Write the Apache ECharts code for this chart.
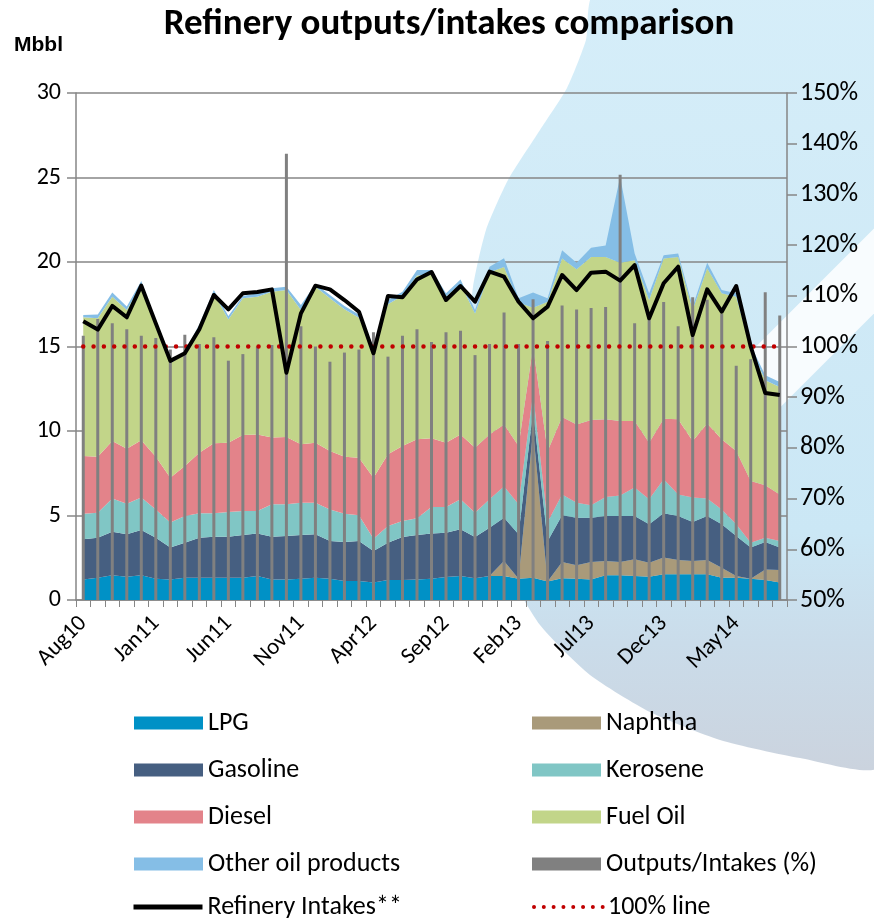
<!DOCTYPE html>
<html><head><meta charset="utf-8">
<script src="https://cdn.jsdelivr.net/npm/echarts/dist/echarts.min.js"></script>
<style>html,body{margin:0;padding:0;background:#fff}#c{width:874px;height:918px}</style>
</head><body><div id="c"></div>
<script>
const categories = ['Aug10','Sep10','Oct10','Nov10','Dec10','Jan11','Feb11','Mar11','Apr11','May11','Jun11','Jul11','Aug11','Sep11','Oct11','Nov11','Dec11','Jan12','Feb12','Mar12','Apr12','May12','Jun12','Jul12','Aug12','Sep12','Oct12','Nov12','Dec12','Jan13','Feb13','Mar13','Apr13','May13','Jun13','Jul13','Aug13','Sep13','Oct13','Nov13','Dec13','Jan14','Feb14','Mar14','Apr14','May14','Jun14','Jul14','Aug14'];
const lpg = [1.22,1.32,1.46,1.38,1.46,1.26,1.22,1.32,1.32,1.32,1.32,1.32,1.42,1.22,1.22,1.26,1.32,1.26,1.12,1.12,1.03,1.18,1.18,1.22,1.26,1.36,1.42,1.28,1.42,1.42,1.26,1.32,1.10,1.28,1.26,1.22,1.46,1.46,1.42,1.38,1.52,1.52,1.52,1.52,1.32,1.32,1.26,1.18,1.03];
const naphtha = [0,0,0,0,0,0,0,0,0,0,0,0,0,0,0,0,0,0,0,0,0,0,0,0,0,0,0,0,0,0.89,0,8.7,0,0.97,0.79,1.03,0.85,0.79,0.99,0.83,0.99,0.85,0.79,0.85,0.59,0.1,0,0.63,0.75];
const gasoline = [2.37,2.37,2.58,2.51,2.68,2.43,1.88,2.07,2.37,2.43,2.43,2.53,2.52,2.53,2.57,2.59,2.57,2.23,2.31,2.37,1.87,2.21,2.55,2.63,2.67,2.62,2.76,2.45,2.86,2.56,2.63,1.18,2.38,2.76,2.82,2.62,2.66,2.72,2.56,2.27,2.62,2.60,2.31,2.60,2.57,2.37,1.84,1.62,1.32];
const kerosene = [1.52,1.48,1.96,1.81,1.92,1.67,1.48,1.58,1.44,1.38,1.46,1.42,1.33,1.91,1.87,1.91,1.87,1.87,1.68,1.52,0.73,0.99,0.94,0.98,1.57,1.52,1.78,1.44,1.68,1.84,1.77,1.0,1.12,1.24,0.89,0.73,1.12,1.22,1.68,1.48,2.01,1.28,1.44,1.03,0.88,0.69,0.29,0.26,0.39];
const diesel = [3.41,3.31,3.41,3.25,3.39,3.12,2.66,2.96,3.59,4.14,4.10,4.49,4.53,3.95,3.98,3.45,3.55,3.46,3.37,3.41,3.61,4.24,4.44,4.68,4.07,3.81,3.84,3.84,3.84,3.68,3.45,2.8,4.2,4.58,4.63,5.05,4.60,4.40,3.94,3.35,3.59,4.44,3.35,4.45,4.15,4.34,3.65,3.10,2.76];
const fuelOil = [8.21,8.19,8.54,8.21,9.19,7.82,6.76,6.67,7.38,8.88,7.29,8.09,8.15,8.63,8.70,7.95,9.23,9.03,8.72,8.28,7.56,8.88,8.89,9.69,9.68,8.64,8.90,7.94,9.60,9.31,8.49,2.3,8.85,9.37,9.18,9.65,9.61,9.37,9.51,8.44,9.47,9.61,7.75,9.18,8.64,9.13,7.81,6.21,6.35];
const otherOil = [0.13,0.23,0.24,0.2,0.24,0.15,0.1,0.1,0.2,0.19,0.2,0.14,0.2,0.2,0.2,0.3,0.16,0.2,0.2,0.2,0.2,0.25,0.24,0.33,0.28,0.2,0.27,0.21,0.32,0.52,0.25,0.9,0.2,0.5,0.39,0.55,0.67,5.09,0.4,0.4,0.2,0.2,0.2,0.33,0.19,0.2,0.22,0.3,0.3];
const ratioPct = [102.1,105.4,104.6,103.4,102.1,101.7,99.4,102.3,100.5,101.8,97.2,98.5,100.0,100.3,138.0,104.0,100.0,97.0,98.8,99.4,102.8,98.0,102.1,103.4,100.9,102.8,103.1,98.3,100.5,106.7,100.5,109.3,101.1,108.1,107.3,107.6,107.8,133.9,104.6,106.5,108.8,104.0,109.7,109.2,106.5,96.2,97.5,110.7,106.1];
const intakes = [16.5,16.0,17.4,16.73,18.6,16.37,14.15,14.6,16.02,18.05,17.2,18.15,18.22,18.38,13.45,16.96,18.6,18.38,17.75,17.06,14.6,17.99,17.91,18.97,19.41,17.75,18.58,17.65,19.43,19.13,17.65,16.67,17.36,19.23,18.34,19.37,19.43,18.90,19.82,16.67,18.74,19.72,15.68,18.38,17.06,18.58,15.0,12.25,12.13];
const line100 = categories.map(() => 100);
const leftTicks = [0,5,10,15,20,25,30];
const rightTicks = [50,60,70,80,90,100,110,120,130,140,150];

const FONT = 'Carlito, Calibri, Lato, sans-serif';
const C = {
  lpg:'#0091C6', naphtha:'#A99A7A', gasoline:'#465F81', kerosene:'#80C6C5',
  diesel:'#E3838A', fuel:'#C2D589', other:'#85BEE6', ratio:'#808080'
};
function area(name, data, color){
  return {name, type:'line', stack:'out', data, symbol:'none', color,
    itemStyle:{color}, lineStyle:{width:0}, areaStyle:{color, opacity:1},
    emphasis:{disabled:true}, z:1, silent:true};
}
const hidden = {color:'rgba(0,0,0,0)', borderWidth:0, opacity:0};
const legendText = {fontFamily:FONT, fontSize:26, color:'#000'};
function legendBox(items, left, top){
  return {data:items, left, top, padding:0, orient:'vertical', itemWidth:69, itemHeight:13,
    itemGap:21, selectedMode:false, textStyle:legendText};
}
const chart = echarts.init(document.getElementById('c'), null, {renderer:'canvas'});
chart.setOption({
  animation:false,
  backgroundColor:'#ffffff',
  graphic:[
    {type:'polygon', z:-10, silent:true,
     shape:{smooth:0.2, points:[[594,-5],[586,40],[567,88],[540,130],[508,180],[486,230],[473,287],[467,360],[470,430],[482,500],[505,565],[540,625],[590,675],[650,712],[720,740],[800,758],[880,765],[880,-5]]},
     style:{fill:new echarts.graphic.LinearGradient(0,0,0,1,[{offset:0,color:'#d6eef9'},{offset:0.7,color:'#cbe7f5'},{offset:0.84,color:'#cadcea'},{offset:1,color:'#cbd3de'}])}},
    {type:'rect', z:-9, silent:true, shape:{x:-200, y:-30, width:400, height:60},
     x:815, y:330, rotation:Math.PI/4,
     style:{fill:'rgba(255,255,255,0.85)'}}
  ],
  title:[{text:'Refinery outputs/intakes comparison', left:444, textAlign:'center', top:1,
    textStyle:{fontFamily:FONT, fontWeight:'bold', fontSize:37, color:'#000'}},
    {text:'Mbbl', left:9, top:30, textStyle:{fontFamily:'Liberation Sans, Arial, sans-serif', fontWeight:'bold', fontSize:21, color:'#000'}}],
  grid:{left:76, right:87, top:93, bottom:318, containLabel:false},
  xAxis:{type:'category', data:categories, boundaryGap:true,
    axisLine:{lineStyle:{color:'#868686', width:1.5}},
    axisTick:{show:true, interval:0, length:7, lineStyle:{color:'#868686', width:1}},
    axisLabel:{interval:4, rotate:45, fontFamily:FONT, fontSize:23, color:'#000', margin:20}},
  yAxis:[{type:'value', min:0, max:30, interval:5,
    axisLine:{show:true, lineStyle:{color:'#868686', width:1.5}},
    axisTick:{show:true, length:9, lineStyle:{color:'#868686', width:1.5}},
    splitLine:{show:true, lineStyle:{color:'#868686', width:1.5}},
    axisLabel:{fontFamily:FONT, fontSize:24, color:'#000', margin:15,
      formatter:v => leftTicks.includes(v) ? String(v) : ''}},
   {type:'value', min:50, max:150, interval:10, position:'right',
    axisLine:{show:true, lineStyle:{color:'#868686', width:1.5}},
    axisTick:{show:true, length:10, lineStyle:{color:'#868686', width:1.5}},
    splitLine:{show:false},
    axisLabel:{fontFamily:FONT, fontSize:26, color:'#000', margin:13,
      formatter:v => rightTicks.includes(v) ? v + '%' : ''}}],
  legend:[
    legendBox([{name:'LPG',icon:'rect'},{name:'Gasoline',icon:'rect'},{name:'Diesel',icon:'rect'},{name:'Other oil products',icon:'rect'}], 134, 710),
    legendBox([{name:'Refinery Intakes**', itemStyle:hidden, lineStyle:{color:'#000', width:5, type:'solid'}}], 131, 894),
    legendBox([{name:'Naphtha',icon:'rect'},{name:'Kerosene',icon:'rect'},{name:'Fuel Oil',icon:'rect'},{name:'Outputs/Intakes (%)',icon:'rect'}], 532, 710),
    legendBox([{name:'100% line', itemStyle:hidden, lineStyle:{color:'#C00000', width:4, type:[0.01,9.8], cap:'round'}}], 532, 894)
  ],
  series:[
    area('LPG', lpg, C.lpg),
    area('Naphtha', naphtha, C.naphtha),
    area('Gasoline', gasoline, C.gasoline),
    area('Kerosene', kerosene, C.kerosene),
    area('Diesel', diesel, C.diesel),
    area('Fuel Oil', fuelOil, C.fuel),
    area('Other oil products', otherOil, C.other),
    {name:'Outputs/Intakes (%)', type:'bar', yAxisIndex:1, data:ratioPct, barWidth:3,
     color:C.ratio, itemStyle:{color:C.ratio}, z:2, clip:true, silent:true},
    {name:'100% line', type:'line', yAxisIndex:1, data:line100, symbol:'none', color:'#C00000',
     lineStyle:{color:'#C00000', width:4.5, type:[0.01,10.3], cap:'round'}, z:3, silent:true},
    {name:'Refinery Intakes**', type:'line', data:intakes, symbol:'none', color:'#000',
     lineStyle:{color:'#000', width:4, join:'round'}, z:4, silent:true}
  ]
});
</script></body></html>
